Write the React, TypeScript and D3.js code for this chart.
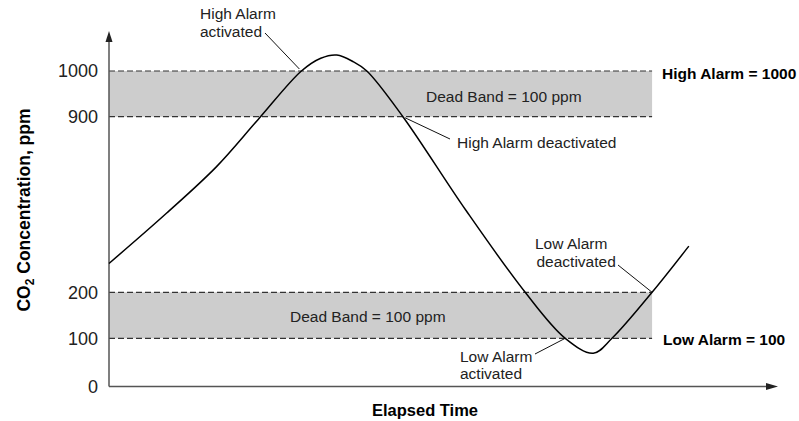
import React, { useEffect, useRef } from "react";
import * as d3 from "d3";

// elapsed time (arbitrary units) and CO2 readings
const timeValues = [0, 8.6, 16.1, 22.3, 28.8, 31.7, 34.1, 36.6, 38.6, 44.0, 53.4, 62.3, 68.3, 72.5, 75.3, 81.3, 86.8];
const co2Values = [315, 515, 701, 888, 1000, 1028, 1035, 1020, 1000, 900, 528, 200, 100, 69, 100, 200, 384];

const tickValues = [0, 100, 200, 900, 1000];
const highBand = [900, 1000];
const lowBand = [100, 200];
const bandLabel = "Dead Band = 100 ppm";

const FONT = "'Liberation Sans', Arial, Helvetica, sans-serif";

export default function App() {
  const ref = useRef<SVGSVGElement>(null);

  useEffect(() => {
    const svg = d3.select(ref.current);
    svg.selectAll("*").remove();

    // broken y axis: the gap between 200 and 900 is squeezed
    const x = d3.scaleLinear().domain([0, 100]).range([109, 777]);
    const y = d3
      .scaleLinear()
      .domain([0, 100, 200, 900, 1000, 1100])
      .range([386.5, 338.3, 292.3, 116.7, 71, 25.3]);

    const bandEnd = 81.3;
    const g = svg.append("g").style("font-family", FONT);

    // grey dead bands
    [highBand, lowBand].forEach(b => {
      g.append("rect")
        .attr("x", x(0))
        .attr("y", y(b[1]))
        .attr("width", x(bandEnd) - x(0))
        .attr("height", y(b[0]) - y(b[1]))
        .attr("fill", "#cdcdcd");
    });

    // dashed limit lines
    [100, 200, 900, 1000].forEach(v => {
      g.append("line")
        .attr("x1", x(0))
        .attr("x2", x(bandEnd))
        .attr("y1", y(v))
        .attr("y2", y(v))
        .attr("stroke", "#333")
        .attr("stroke-width", 1.2)
        .attr("stroke-dasharray", "6,3");
    });

    // band texts
    g.append("text")
      .attr("x", 426)
      .attr("y", 102)
      .style("font-size", "15.5px")
      .attr("fill", "#222")
      .text(bandLabel);
    g.append("text")
      .attr("x", 290)
      .attr("y", 321.5)
      .style("font-size", "15.5px")
      .attr("fill", "#222")
      .text(bandLabel);

    // axes
    const axisColor = "#555";
    g.append("line")
      .attr("x1", x(0)).attr("x2", x(0))
      .attr("y1", y(0)).attr("y2", 40)
      .attr("stroke", axisColor).attr("stroke-width", 1.5);
    g.append("path")
      .attr("d", `M${x(0)},31 L${x(0) - 3.5},42 L${x(0) + 3.5},42 Z`)
      .attr("fill", "#222");
    g.append("line")
      .attr("x1", x(0)).attr("x2", 768)
      .attr("y1", y(0)).attr("y2", y(0))
      .attr("stroke", axisColor).attr("stroke-width", 1.5);
    g.append("path")
      .attr("d", `M778,${y(0)} L766,${y(0) - 3.5} L766,${y(0) + 3.5} Z`)
      .attr("fill", "#222");

    const yAxis = g
      .append("g")
      .attr("transform", `translate(${x(0)},0)`)
      .call(d3.axisLeft(y).tickValues(tickValues).tickSize(0).tickPadding(11).tickFormat(d3.format("d")));
    yAxis.select(".domain").remove();
    yAxis.selectAll("text")
      .style("font-family", FONT)
      .style("font-size", "18px")
      .attr("fill", "#222");

    // the CO2 curve
    const line = d3
      .line<number>()
      .x((d, i) => x(timeValues[i]))
      .y(d => y(d))
      .curve(d3.curveCatmullRom.alpha(0.5));
    g.append("path")
      .datum(co2Values)
      .attr("d", line)
      .attr("fill", "none")
      .attr("stroke", "#000")
      .attr("stroke-width", 1.5);

    // annotations with leader lines
    const leader = (x1: number, y1: number, x2: number, y2: number) =>
      g.append("line")
        .attr("x1", x1).attr("y1", y1)
        .attr("x2", x2).attr("y2", y2)
        .attr("stroke", "#111")
        .attr("stroke-width", 1);
    const label = (tx: number, ty: number, s: string, bold = false) =>
      g.append("text")
        .attr("x", tx)
        .attr("y", ty)
        .style("font-size", "15.5px")
        .style("font-weight", bold ? "bold" : "normal")
        .attr("fill", bold ? "#000" : "#222")
        .text(s);

    label(200, 18.5, "High Alarm");
    label(200, 36.5, "activated");
    leader(265, 33, x(28.8) - 2, y(1000) - 2);

    label(457, 148, "High Alarm deactivated");
    leader(x(44) + 2, y(900) + 1, 450, 139);

    label(535, 249, "Low Alarm");
    label(536.5, 267, "deactivated");
    leader(618, 265, x(81.3), y(200));

    label(460, 362, "Low Alarm");
    label(460, 378.5, "activated");
    leader(535, 354, x(68.3), y(100));

    label(662, 78.5, "High Alarm = 1000", true);
    label(663, 345, "Low Alarm = 100", true);

    // axis titles
    g.append("text")
      .attr("x", 425)
      .attr("y", 416)
      .attr("text-anchor", "middle")
      .style("font-size", "16.5px")
      .style("font-weight", "bold")
      .text("Elapsed Time");

    const yTitle = g
      .append("text")
      .attr("transform", "translate(30,210) rotate(-90)")
      .attr("text-anchor", "middle")
      .style("font-size", "17.5px")
      .style("font-weight", "bold");
    yTitle.append("tspan").text("CO");
    yTitle.append("tspan").attr("dy", 4).style("font-size", "12px").text("2");
    yTitle.append("tspan").attr("dy", -4).text(" Concentration, ppm");
  }, []);

  return (
    <svg
      ref={ref}
      width={799}
      height={421}
      style={{ position: "absolute", left: 0, top: 0, background: "#fff", display: "block" }}
    />
  );
}
